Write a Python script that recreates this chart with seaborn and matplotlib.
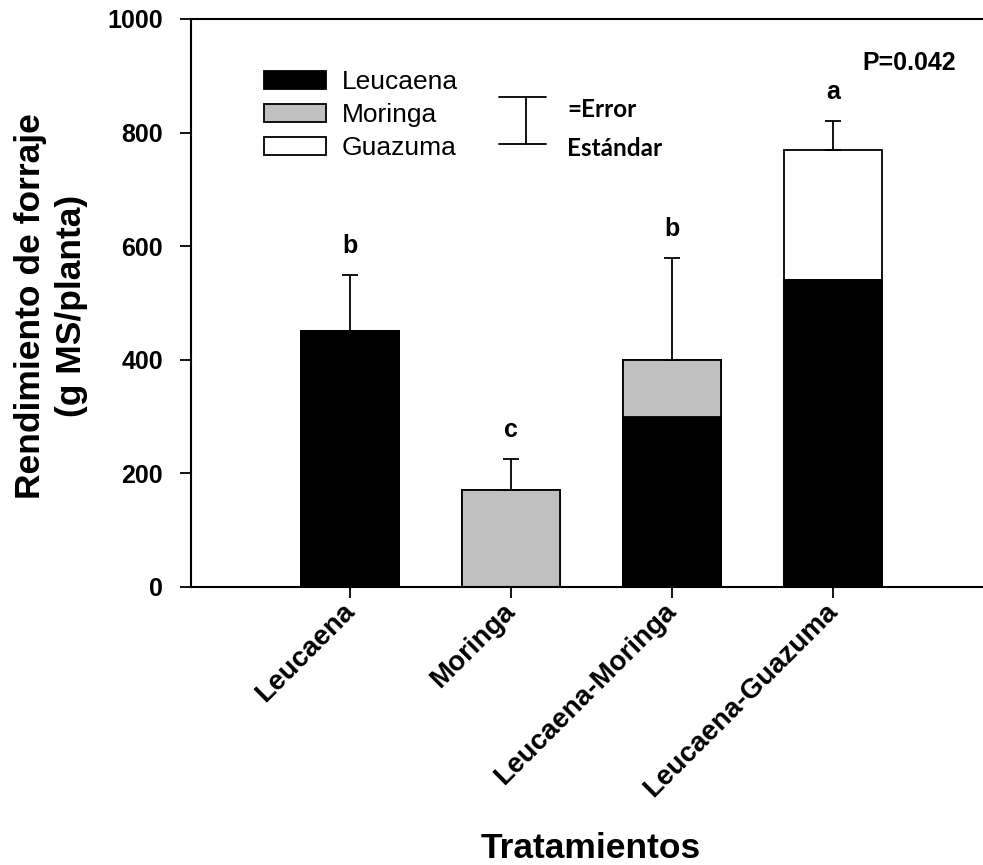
import matplotlib
matplotlib.use("Agg")
import matplotlib.pyplot as plt
import seaborn as sns
import pandas as pd
import numpy as np
from matplotlib.patches import Patch

# ---- data ----
treatments = ["Leucaena", "Moringa", "Leucaena-Moringa", "Leucaena-Guazuma"]
leucaena = [450, 0, 300, 540]
moringa = [0, 170, 100, 0]
guazuma = [0, 0, 0, 230]
std_err = [100, 55, 180, 50]
letters = ["b", "c", "b", "a"]
species = ["Leucaena", "Moringa", "Guazuma"]
colors = ["#000000", "#C0C0C0", "#FFFFFF"]
p_text = "P=0.042"
y_ticks = [0, 200, 400, 600, 800, 1000]

sns.set_theme(style="white")
plt.rcParams["font.family"] = ["Liberation Sans", "DejaVu Sans"]
plt.rcParams.update({"text.color": "black", "axes.labelcolor": "black",
                     "xtick.color": "black", "ytick.color": "black"})

df = pd.DataFrame({"Tratamiento": treatments, "Leucaena": leucaena,
                   "Moringa": moringa, "Guazuma": guazuma})
df["c1"] = df["Leucaena"]
df["c2"] = df["c1"] + df["Moringa"]
df["c3"] = df["c2"] + df["Guazuma"]

W, H = 983, 865
fig = plt.figure(figsize=(W / 100, H / 100), dpi=100)
ax = fig.add_axes([191 / W, (H - 587) / H, (983 - 191) / W, 568 / H])

# stacked bars: draw cumulative totals from top layer down
for col, c in zip(["c3", "c2", "c1"], colors[::-1]):
    sns.barplot(data=df, x="Tratamiento", y=col, color=c, edgecolor="black",
                linewidth=1.3, width=0.61, errorbar=None, ax=ax, saturation=1)

xpos = np.arange(len(treatments))
tops = df["c3"].values
ax.errorbar(xpos, tops, yerr=[np.zeros(len(tops)), std_err], fmt="none",
            ecolor="black", elinewidth=1.3, capsize=6, capthick=1.3)

for x, t, s, l in zip(xpos, tops, std_err, letters):
    ax.annotate(l, (x, t + s), xytext=(0, 29), textcoords="offset pixels",
                ha="center", va="center", fontsize=18, fontweight="bold")

ax.text(0.907, 0.9225, p_text, transform=ax.transAxes, ha="center",
        va="center", fontsize=18, fontweight="bold")

ax.set_xlim(-0.99, 3.93)
ax.set_ylim(0, 1000)
ax.set_yticks(y_ticks)
ax.set_yticklabels([str(v) for v in y_ticks], fontsize=18, fontweight="bold")
ax.set_xticks(xpos)
ax.set_xticklabels(treatments, fontsize=20, fontweight="bold", rotation=45,
                   ha="right", va="center", rotation_mode="anchor")
ax.tick_params(axis="both", direction="out", length=8, width=1.3, color="black",
               bottom=True, left=True)
ax.tick_params(axis="x", pad=7)
ax.tick_params(axis="y", pad=12)

for side in ["left", "bottom", "top"]:
    ax.spines[side].set_visible(True)
    ax.spines[side].set_color("black")
    ax.spines[side].set_linewidth(1.5)
ax.spines["right"].set_visible(False)

ax.set_xlabel("Tratamientos", fontsize=25.5, fontweight="bold")
ax.xaxis.set_label_coords(0.505, -0.461)
ax.xaxis.label.set_va("center")
ax.set_ylabel("Rendimiento de forraje\n(g MS/planta)", fontsize=25.5,
              fontweight="bold", linespacing=1.3)
ax.yaxis.set_label_coords(-0.177, 0.495)
ax.yaxis.label.set_va("center")

handles = [Patch(facecolor=c, edgecolor="black", linewidth=1.3) for c in colors]
leg = ax.legend(handles, species, loc="upper left",
                bbox_to_anchor=((264 - 191) / 792, (587 - 70) / 568),
                frameon=False, fontsize=19, handlelength=2.35, handleheight=0.68,
                handletextpad=0.6, labelspacing=0.35, borderpad=0, borderaxespad=0)

# error bar key
ex, ecl, ecr = (526 - 191) / 792, (499 - 191) / 792, (546 - 191) / 792
eyt, eyb = (587 - 97.5) / 568, (587 - 144.5) / 568
ax.plot([ex, ex], [eyb, eyt], color="black", lw=1.3, transform=ax.transAxes)
ax.plot([ecl, ecr], [eyt, eyt], color="black", lw=1.3, transform=ax.transAxes)
ax.plot([ecl, ecr], [eyb, eyb], color="black", lw=1.3, transform=ax.transAxes)
ax.text((567 - 191) / 792, (587 - 117) / 568, "=Error", transform=ax.transAxes,
        ha="left", va="baseline", fontsize=17.5, fontweight="bold",
        family=["Lato", "DejaVu Sans"])
ax.text((567 - 191) / 792, (587 - 156) / 568, "Estándar", transform=ax.transAxes,
        ha="left", va="baseline", fontsize=17.5, fontweight="bold",
        family=["Lato", "DejaVu Sans"])

fig.savefig("out.png", dpi=100)
